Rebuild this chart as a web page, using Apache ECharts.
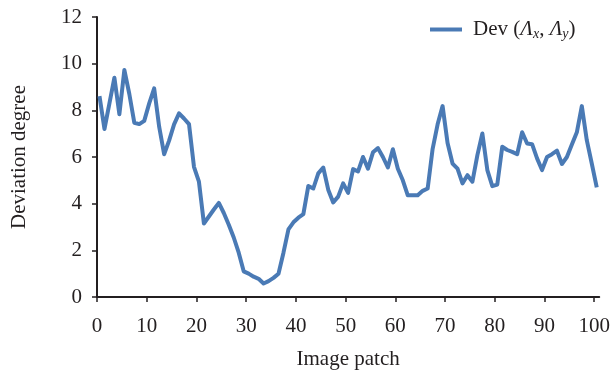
<!DOCTYPE html>
<html>
<head>
<meta charset="utf-8">
<script src="https://cdn.jsdelivr.net/npm/echarts@6/dist/echarts.min.js"></script>
<style>
  html, body { margin: 0; padding: 0; background: #fff; }
  #chart { width: 613px; height: 377px; }
</style>
</head>
<body>
<div id="chart"></div>
<script>
// Deviation degree per image patch
const devValues = [
  8.61, 7.2, 8.3, 9.4, 7.83, 9.73, 8.7, 7.47, 7.41, 7.55,
  8.3, 8.94, 7.3, 6.12, 6.7, 7.4, 7.87, 7.65, 7.41, 5.58,
  4.94, 3.15, 3.45, 3.75, 4.03, 3.6, 3.1, 2.55, 1.9, 1.1,
  1.0, 0.87, 0.78, 0.58, 0.68, 0.82, 1.0, 1.9, 2.9, 3.2,
  3.4, 3.55, 4.76, 4.65, 5.3, 5.55, 4.6, 4.05, 4.3, 4.87,
  4.46, 5.48, 5.38, 6.0, 5.5, 6.2, 6.38, 6.0, 5.55, 6.33,
  5.5, 5.0, 4.36, 4.36, 4.36, 4.55, 4.65, 6.35, 7.4, 8.18,
  6.6, 5.72, 5.5, 4.87, 5.22, 4.94, 6.08, 7.01, 5.44, 4.75,
  4.82, 6.44, 6.3, 6.22, 6.12, 7.06, 6.58, 6.55, 5.94, 5.44,
  6.0, 6.12, 6.27, 5.7, 6.0, 6.54, 7.06, 8.18, 6.72, 5.72,
  4.7
];
const xTicks = [0, 10, 20, 30, 40, 50, 60, 70, 80, 90, 100];
const yTicks = [0, 2, 4, 6, 8, 10, 12];
const seriesName = 'Dev';

// each patch sits at the centre of its unit cell
const points = devValues.map((v, i) => [i + 0.5, v]);

const font = 'Liberation Serif, Times New Roman, serif';
const textColor = '#231f20';
const axisColor = '#231f20';
const lineColor = '#4a7ab5';
const fontSize = 21;

const chart = echarts.init(document.getElementById('chart'), null, { renderer: 'canvas' });
chart.setOption({
  animation: false,
  backgroundColor: '#ffffff',
  grid: { left: 97, right: 8, top: 17, bottom: 80, containLabel: false },
  legend: {
    data: [seriesName],
    left: 425,
    top: 14,
    itemWidth: 32,
    itemHeight: 4,
    itemGap: 10,
    icon: 'rect',
    formatter: () => 'Dev ({i|Λ}{sub|x}, {i|Λ}{sub|y})',
    textStyle: {
      fontFamily: font,
      fontSize: fontSize,
      color: textColor,
      padding: [0, 0, 0, 6],
      rich: {
        i: { fontFamily: font, fontSize: fontSize, fontStyle: 'italic', color: textColor },
        sub: { fontFamily: font, fontSize: 14, fontStyle: 'italic', color: textColor, padding: [10, 0, 0, 0] }
      }
    }
  },
  xAxis: {
    type: 'value',
    min: 0,
    max: 101,
    interval: 10,
    name: 'Image patch',
    nameLocation: 'middle',
    nameGap: 52,
    nameTextStyle: { fontFamily: font, fontSize: fontSize, color: textColor },
    axisLine: { show: true, onZero: false, lineStyle: { color: axisColor, width: 2 } },
    axisTick: { show: true, inside: false, length: 5, customValues: xTicks, lineStyle: { color: axisColor, width: 1.5 } },
    axisLabel: { customValues: xTicks, margin: 19, fontFamily: font, fontSize: fontSize, color: textColor },
    splitLine: { show: false }
  },
  yAxis: {
    type: 'value',
    min: 0,
    max: 12,
    interval: 2,
    name: 'Deviation degree',
    nameLocation: 'middle',
    nameGap: 67,
    nameTextStyle: { fontFamily: font, fontSize: fontSize, color: textColor },
    axisLine: { show: true, lineStyle: { color: axisColor, width: 2 } },
    axisTick: { show: true, inside: false, length: 5, customValues: yTicks, lineStyle: { color: axisColor, width: 1.5 } },
    axisLabel: { customValues: yTicks, margin: 15, fontFamily: font, fontSize: fontSize, color: textColor },
    splitLine: { show: false }
  },
  series: [{
    name: seriesName,
    type: 'line',
    data: points,
    showSymbol: false,
    symbol: 'none',
    lineStyle: { color: lineColor, width: 4, join: 'round' },
    itemStyle: { color: lineColor }
  }]
});
</script>
</body>
</html>
